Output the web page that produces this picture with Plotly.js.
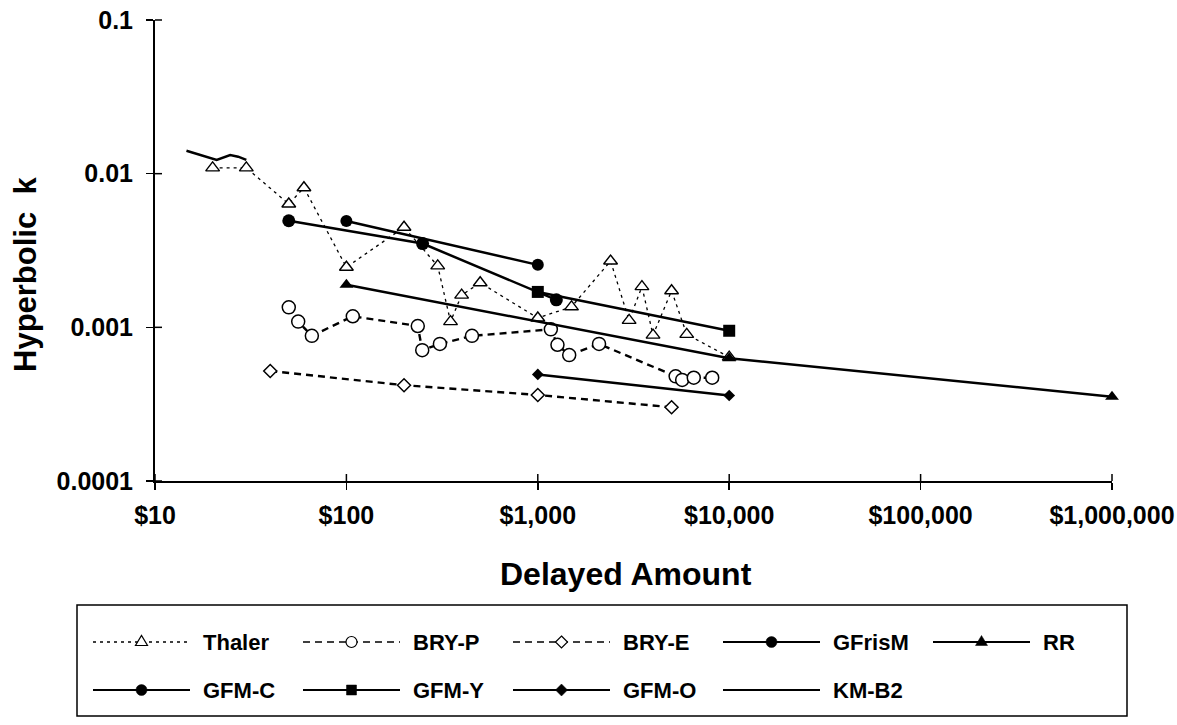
<!DOCTYPE html>
<html><head><meta charset="utf-8">
<script src="https://cdn.plot.ly/plotly-3.0.1.min.js"></script>
<style>html,body{margin:0;padding:0;background:#fff;}#chart{width:1177px;height:725px;}</style>
</head><body><div id="chart"></div>
<script>
// ---- data ----
const amountTicks = [10, 100, 1000, 10000, 100000, 1000000];
const amountTickLabels = ['$10', '$100', '$1,000', '$10,000', '$100,000', '$1,000,000'];
const kTicks = [0.0001, 0.001, 0.01, 0.1];
const kTickLabels = ['0.0001', '0.001', '0.01', '0.1'];

const seriesNames = ['Thaler', 'BRY-P', 'BRY-E', 'GFrisM', 'RR', 'GFM-C', 'GFM-Y', 'GFM-O', 'KM-B2'];

const thalerX = [20, 30, 50, 60, 100, 200, 300, 350, 400, 500, 1000, 1500, 2400, 3000, 3500, 4000, 5000, 6000, 10000];
const thalerK = [0.0109, 0.0109, 0.00635, 0.0081, 0.00246, 0.00448, 0.00251, 0.00109, 0.00162, 0.00195, 0.00115, 0.00136, 0.0027, 0.00111, 0.00184, 0.00089, 0.00173, 0.0009, 0.00064];

const bryPX = [50, 56, 66, 108, 236, 249, 308, 453, 1170, 1267, 1459, 2089, 5250, 5680, 6530, 8150];
const bryPK = [0.00135, 0.00109, 0.00088, 0.00118, 0.00102, 0.00071, 0.00078, 0.00088, 0.00097, 0.00077, 0.00066, 0.00078, 0.00048, 0.000455, 0.00047, 0.00047];

const bryEX = [40, 200, 1000, 5000];
const bryEK = [0.00052, 0.00042, 0.000363, 0.000302];

const gfrismX = [50, 250, 1250];
const gfrismK = [0.00494, 0.00351, 0.00151];

const rrX = [100, 10000, 1000000];
const rrK = [0.00189, 0.00063, 0.000354];

const gfmCX = [100, 1000];
const gfmCK = [0.00492, 0.00255];

const gfmYX = [1000, 10000];
const gfmYK = [0.0017, 0.00095];

const gfmOX = [1000, 10000];
const gfmOK = [0.000494, 0.00036];

const kmX = [14.6, 17.9, 21, 24.7, 27.2, 30];
const kmK = [0.0141, 0.0130, 0.0123, 0.0132, 0.0129, 0.0123];

// ---- styles ----
const FONT = 'Liberation Sans, Arial, Helvetica, sans-serif';
const dotted = '3px,4px';
const dashed = '7px,5px';
const styles = [
  {x: thalerX, y: thalerK, dash: dotted, lw: 1.3, sym: 'triangle-up', size: 12, fill: 'white', mlw: 1.4, lg: 'tri', lgFill: 'white'},
  {x: bryPX, y: bryPK, dash: dashed, lw: 2.4, sym: 'circle', size: 13, fill: 'white', mlw: 1.5, lg: 'circ', lgFill: 'white'},
  {x: bryEX, y: bryEK, dash: dashed, lw: 2.4, sym: 'diamond', size: 10, fill: 'white', mlw: 1.5, lg: 'dia', lgFill: 'white'},
  {x: gfrismX, y: gfrismK, dash: 'solid', lw: 2.5, sym: 'circle', size: 13, fill: 'black', mlw: 0, lg: 'circ', lgFill: 'black'},
  {x: rrX, y: rrK, dash: 'solid', lw: 2.5, sym: 'triangle-up', size: 12, fill: 'black', mlw: 0, lg: 'tri', lgFill: 'black'},
  {x: gfmCX, y: gfmCK, dash: 'solid', lw: 2.5, sym: 'circle', size: 12, fill: 'black', mlw: 0, lg: 'circ', lgFill: 'black'},
  {x: gfmYX, y: gfmYK, dash: 'solid', lw: 2.5, sym: 'square', size: 12, fill: 'black', mlw: 0, lg: 'sq', lgFill: 'black'},
  {x: gfmOX, y: gfmOK, dash: 'solid', lw: 2.5, sym: 'diamond', size: 9, fill: 'black', mlw: 0, lg: 'dia', lgFill: 'black'},
  {x: kmX, y: kmK, dash: 'solid', lw: 2.5, sym: null, size: 0, fill: 'black', mlw: 0, lg: null, lgFill: 'black'}
];

const traces = styles.map((s, i) => {
  const t = {
    type: 'scatter', name: seriesNames[i], x: s.x, y: s.y,
    mode: s.sym ? 'lines+markers' : 'lines', cliponaxis: false,
    line: {color: 'black', width: s.lw, dash: s.dash},
    showlegend: false, hoverinfo: 'x+y+name'
  };
  if (s.sym) t.marker = {symbol: s.sym, size: s.size, color: s.fill, line: {color: 'black', width: s.mlw}};
  return t;
});

// ---- geometry helpers (page px -> paper) ----
const L = 155, R = 1112, T = 20, B = 481;
const W = R - L, H = B - T;
const px = v => (v - L) / W;
const py = v => (B - v) / H;

const shapes = [];
const annotations = [];

// inner halves of the cross ticks
const logMin = Math.log10(amountTicks[0]), logMax = Math.log10(amountTicks[amountTicks.length - 1]);
amountTicks.forEach(v => {
  const xp = (Math.log10(v) - logMin) / (logMax - logMin);
  shapes.push({type: 'line', xref: 'paper', yref: 'paper', x0: xp, x1: xp,
    ysizemode: 'pixel', yanchor: 0, y0: 0, y1: 7, line: {color: 'black', width: 1.5}});
});
const kMin = Math.log10(kTicks[0]), kMax = Math.log10(kTicks[kTicks.length - 1]);
kTicks.forEach(v => {
  const yp = (Math.log10(v) - kMin) / (kMax - kMin);
  shapes.push({type: 'line', xref: 'paper', yref: 'paper', y0: yp, y1: yp,
    xsizemode: 'pixel', xanchor: 0, x0: 0, x1: 7, line: {color: 'black', width: 1.5}});
});

// ---- custom legend ----
const lgBox = {l: 77, r: 1127, t: 605, b: 716};
shapes.push({type: 'rect', xref: 'paper', yref: 'paper', x0: px(lgBox.l), x1: px(lgBox.r), y0: py(lgBox.b), y1: py(lgBox.t),
  line: {color: 'black', width: 1.5}, fillcolor: 'rgba(0,0,0,0)'});
const colPitch = 210, firstText = 204, sampleGap = 14, sampleLen = 97, rowY = [642, 690];
const markerPath = {
  tri: 'M-6,-3.5L6,-3.5L0,6.5Z',
  dia: 'M0,6L6,0L0,-6L-6,0Z',
  sq: 'M-5,-5L5,-5L5,5L-5,5Z'
};
seriesNames.forEach((name, i) => {
  const s = styles[i];
  const row = Math.floor(i / 5), col = i % 5;
  const tx = firstText + col * colPitch;
  const x1 = tx - sampleGap, x0 = x1 - sampleLen, yy = rowY[row];
  shapes.push({type: 'line', xref: 'paper', yref: 'paper', x0: px(x0), x1: px(x1), y0: py(yy), y1: py(yy),
    line: {color: 'black', width: s.dash === 'solid' ? 2 : 1.4, dash: s.dash}});
  if (s.lg) {
    const base = {xref: 'paper', yref: 'paper', xsizemode: 'pixel', ysizemode: 'pixel',
      xanchor: px((x0 + x1) / 2), yanchor: py(yy), fillcolor: s.lgFill,
      line: {color: 'black', width: s.lgFill === 'white' ? 1.2 : 0.5}};
    if (s.lg === 'circ') {
      const r = 5.5;
      shapes.push(Object.assign({type: 'circle', x0: -r, x1: r, y0: -r, y1: r}, base));
    } else {
      shapes.push(Object.assign({type: 'path', path: markerPath[s.lg]}, base));
    }
  }
  annotations.push({xref: 'paper', yref: 'paper', x: px(tx - 3), y: py(yy), xanchor: 'left', yanchor: 'middle',
    showarrow: false, text: name, font: {family: FONT, size: 22, color: 'black', weight: 700}});
});

// axis titles
annotations.push({xref: 'paper', yref: 'paper', x: px(25), y: py(275), textangle: -90, xanchor: 'center', yanchor: 'middle',
  showarrow: false, text: 'Hyperbolic\u00a0\u00a0k', font: {family: FONT, size: 31, color: 'black', weight: 700}});
annotations.push({xref: 'paper', yref: 'paper', x: px(626), y: py(574), xanchor: 'center', yanchor: 'middle',
  showarrow: false, text: 'Delayed Amount', font: {family: FONT, size: 32, color: 'black', weight: 700}});

const layout = {
  width: 1177, height: 725,
  margin: {l: L, r: 1177 - R, t: T, b: 725 - B, pad: 0},
  paper_bgcolor: 'white', plot_bgcolor: 'white',
  showlegend: false,
  font: {family: FONT, color: 'black'},
  xaxis: {
    type: 'log', range: [logMin, logMax], tickmode: 'array', tickvals: amountTicks, ticktext: amountTickLabels,
    showgrid: false, zeroline: false, showline: true, linecolor: 'black', linewidth: 2,
    ticks: 'outside', ticklen: 7, tickwidth: 1.5, tickcolor: 'black', ticklabelstandoff: 4,
    tickfont: {family: FONT, size: 25, color: 'black', weight: 700}, fixedrange: true
  },
  yaxis: {
    type: 'log', range: [kMin, kMax], tickmode: 'array', tickvals: kTicks, ticktext: kTickLabels,
    showgrid: false, zeroline: false, showline: true, linecolor: 'black', linewidth: 2,
    ticks: 'outside', ticklen: 7, tickwidth: 1.5, tickcolor: 'black', ticklabelstandoff: 8,
    tickfont: {family: FONT, size: 25, color: 'black', weight: 700}, fixedrange: true
  },
  shapes: shapes,
  annotations: annotations
};

Plotly.newPlot('chart', traces, layout, {displayModeBar: false, staticPlot: true});
</script>
</body></html>
